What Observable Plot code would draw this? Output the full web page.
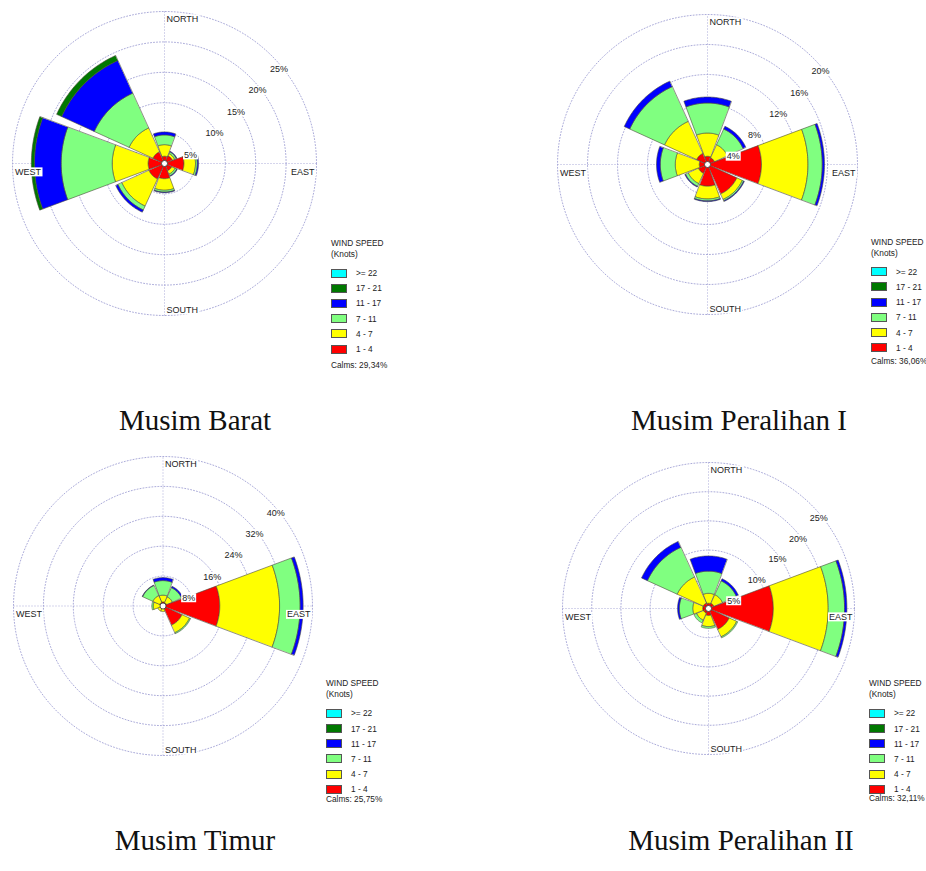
<!DOCTYPE html>
<html><head><meta charset="utf-8">
<script src="https://cdn.jsdelivr.net/npm/d3@7"></script>
<script src="https://cdn.jsdelivr.net/npm/@observablehq/plot@0.6"></script>
<style>
html,body{margin:0;padding:0;background:#fff;}
#page{position:relative;width:926px;height:871px;overflow:hidden;font-family:"Liberation Sans",Arial,sans-serif;background:#fff;}
.panel{position:absolute;}
.panel svg{overflow:visible;}
.lg{position:absolute;white-space:nowrap;font-size:8.3px;line-height:10px;height:10px;color:#222;}
.sw{position:absolute;width:16px;height:9px;border:1px solid #555;box-sizing:border-box;}
.caption{position:absolute;font-family:"Liberation Serif","Times New Roman",serif;font-size:29px;line-height:29px;color:#111;white-space:nowrap;transform:translateX(-50%);}
</style></head><body><div id="page"></div>
<script>
// ---------- data ----------
const directions = ["N","NE","E","SE","S","SW","W","NW"];
const directionAngles = [90,45,0,-45,-90,-135,180,135];
const speedClasses = ["1 - 4","4 - 7","7 - 11","11 - 17","17 - 21",">= 22"];
const classColors = ["#ff0000","#ffff00","#80ff80","#0000ff","#007800","#00ffff"];
const legendOrder = [">= 22","17 - 21","11 - 17","7 - 11","4 - 7","1 - 4"];
const titles = ["Musim Barat","Musim Peralihan I","Musim Timur","Musim Peralihan II"];
const calms = ["Calms: 29,34%","Calms: 36,06%","Calms: 25,75%","Calms: 32,11%"];
const ringTicks = [[5,10,15,20,25],[4,8,12,16,20],[8,16,24,32,40],[5,10,15,20,25]];

// frequency (%) per speed class (rows: 1-4 ... >=22), columns: N NE E SE S SW W NW
const baratFreq = [
  [1.2,1.4,3.2,1.3,2.5,2.8,2.7,2.1],
  [1.9,0.4,1.9,0.6,1.9,4.9,5.9,4.3],
  [1.6,0.3,0.3,0.3,0.3,0.7,8.4,6.3],
  [0.5,0.1,0.2,0.1,0.1,0.4,4.4,5.9],
  [0,0,0,0,0,0,0.5,0.9],
  [0,0,0,0,0,0,0,0]
];
const peralihan1Freq = [
  [1.1,1.0,7.2,4.3,2.9,1.3,1.1,1.6],
  [3.1,1.9,6.2,0.8,1.7,1.5,3.2,4.7],
  [4.0,2.3,1.9,0.2,0.25,0.4,2.0,5.1],
  [0.8,0.4,0.3,0.1,0.1,0.1,0.5,0.8],
  [0,0,0,0,0,0,0,0],
  [0,0,0,0,0,0,0,0]
];
const timurFreq = [
  [1.1,1.0,15.2,5.6,0.5,0.4,0.5,1.0],
  [1.8,1.7,16.0,2.2,1.0,1.1,2.1,2.0],
  [3.9,2.7,5.5,0.3,0,0,0.4,3.0],
  [0.8,0.4,0.8,0,0,0,0,0.1],
  [0,0,0,0,0,0,0,0],
  [0,0,0,0,0,0,0,0]
];
const peralihan2Freq = [
  [0.9,1.0,11.1,3.9,1.2,0.9,1.0,1.0],
  [1.7,1.6,9.4,1.4,1.9,1.3,1.7,4.9],
  [3.8,2.6,2.8,0.2,0.3,0.5,2.3,5.6],
  [2.6,0.4,0.4,0,0,0,0.3,1.1],
  [0,0,0,0,0,0,0,0],
  [0,0,0,0,0,0,0,0]
];
const panelFreqs = [baratFreq, peralihan1Freq, timurFreq, peralihan2Freq];

// ---------- layout ----------
const panelCenters = [[163.5,163.3],[706.8,163.5],[162.5,605.8],[708,607.5]];
const panelRadius = [152,150,149.5,146];
const legendPos = [[331,243],[871,241.7],[326,683.3],[869,683.3]];
const calmsOffset = [122,119.5,116,114.7];
const captionPos = [[195,430],[739,430],[195,850],[741,850]];
const gridColor = "#9595cf";
const sectorHalfWidth = 20.5;

const rad = a => a * Math.PI / 180;
const page = document.getElementById("page");

function rose(freq, ticks, R) {
  const max = ticks[ticks.length - 1];
  const S = Math.round(2 * (R + 14));
  const half = max * (S / 2) / R;
  const verts = [];
  directions.forEach((d, j) => {
    let cum = 0;
    speedClasses.forEach((c, i) => {
      const v = freq[i][j];
      if (!(v > 0)) return;
      const r0 = cum, r1 = cum + v; cum = r1;
      const id = d + "|" + c;
      const a0 = directionAngles[j] - sectorHalfWidth;
      const n = Math.round(2 * sectorHalfWidth);
      for (let k = 0; k <= n; k++) {
        const a = rad(a0 + k);
        verts.push({id, cls: c, x: r1 * Math.cos(a), y: r1 * Math.sin(a)});
      }
      if (r0 > 0) {
        for (let k = n; k >= 0; k--) {
          const a = rad(a0 + k);
          verts.push({id, cls: c, x: r0 * Math.cos(a), y: r0 * Math.sin(a)});
        }
      } else verts.push({id, cls: c, x: 0, y: 0});
    });
  });
  const ringVerts = [];
  ticks.forEach(t => {
    for (let k = 0; k < 360; k += 2) ringVerts.push({r: t, x: t * Math.cos(rad(k)), y: t * Math.sin(rad(k))});
  });
  const axes = [{x1: 0, y1: -max, x2: 0, y2: max}, {x1: -max, y1: 0, x2: max, y2: 0}];
  const compass = [
    {t: "NORTH", x: 0, y: max, anchor: "start", dx: 2, dy: 7.5},
    {t: "SOUTH", x: 0, y: -max, anchor: "start", dx: 2, dy: -5.5},
    {t: "WEST", x: -max, y: 0, anchor: "start", dx: 2.5, dy: 8.5},
    {t: "EAST", x: max, y: 0, anchor: "end", dx: -2, dy: 8.5}
  ];
  const textStyle = {fill: "#222", fontSize: 9};
  return Plot.plot({
    width: S, height: S, margin: 0,
    x: {domain: [-half, half], axis: null},
    y: {domain: [-half, half], axis: null},
    color: {domain: speedClasses, range: classColors},
    style: {fontFamily: "'Liberation Sans', Arial, sans-serif", fontSize: "9px", background: "transparent", overflow: "visible"},
    marks: [
      Plot.line(ringVerts, {x: "x", y: "y", z: "r", stroke: gridColor, strokeWidth: 0.8, strokeDasharray: "1,2", curve: "linear-closed"}),
      Plot.link(axes, {x1: "x1", y1: "y1", x2: "x2", y2: "y2", stroke: gridColor, strokeWidth: 0.8, strokeDasharray: "1,2"}),
      Plot.line(verts, {x: "x", y: "y", z: "id", fill: "cls", stroke: "#4a4a3a", strokeWidth: 0.6, strokeLinejoin: "miter", curve: "linear-closed"}),
      Plot.dot([{x: 0, y: 0}], {x: "x", y: "y", r: 3, fill: "white", stroke: "#333", strokeWidth: 0.8}),
      Plot.text(ticks, {x: d => d * Math.SQRT1_2, y: d => d * Math.SQRT1_2, text: d => d + "%", textAnchor: "start", dx: -2, dy: 13, ...textStyle}),
      ...compass.map(c => Plot.text([c], {x: "x", y: "y", text: "t", textAnchor: c.anchor, dx: c.dx, dy: c.dy, ...textStyle}))
    ]
  });
}

function addTextBoxes(svg) {
  svg.querySelectorAll('g[aria-label="text"] text').forEach(t => {
    const b = t.getBBox();
    const r = document.createElementNS("http://www.w3.org/2000/svg", "rect");
    r.setAttribute("x", b.x - 1);
    r.setAttribute("y", b.y + 0.5);
    r.setAttribute("width", b.width + 2);
    r.setAttribute("height", b.height - 1);
    r.setAttribute("fill", "white");
    if (t.getAttribute("transform")) r.setAttribute("transform", t.getAttribute("transform"));
    t.parentNode.insertBefore(r, t);
  });
}

function addDiv(cls, left, top, text) {
  const d = document.createElement("div");
  d.className = cls;
  d.style.left = left + "px";
  d.style.top = top + "px";
  if (text != null) d.textContent = text;
  page.appendChild(d);
  return d;
}

panelFreqs.forEach((freq, p) => {
  const R = panelRadius[p];
  const svg = rose(freq, ringTicks[p], R);
  const S = +svg.getAttribute("width");
  const holder = addDiv("panel", panelCenters[p][0] - S / 2, panelCenters[p][1] - S / 2);
  holder.appendChild(svg);
  addTextBoxes(svg);

  // legend
  const [lx, ly] = legendPos[p];
  addDiv("lg", lx, ly - 5, "WIND SPEED");
  addDiv("lg", lx, ly + 11 - 5, "(Knots)");
  legendOrder.forEach((c, i) => {
    const y = ly + 30 + 15.2 * i;
    const sw = addDiv("sw", lx, y - 4.5);
    sw.style.background = classColors[speedClasses.indexOf(c)];
    addDiv("lg", lx + 25, y - 5, c);
  });
  addDiv("lg", lx, ly + calmsOffset[p] - 5, calms[p]);

  // caption
  addDiv("caption", captionPos[p][0], captionPos[p][1] - 24.3, titles[p]);
});
</script></body></html>
